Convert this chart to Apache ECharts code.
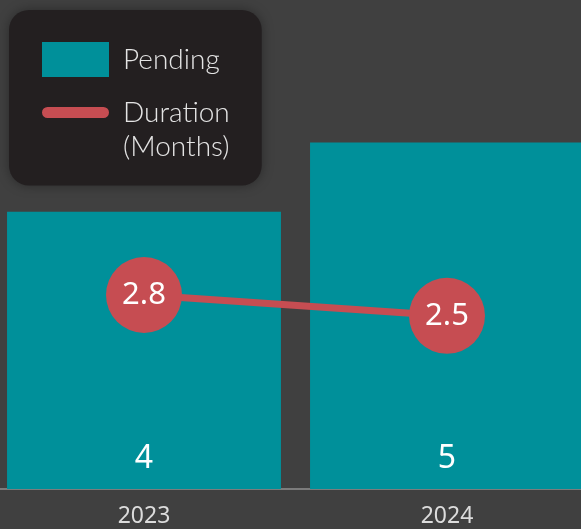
<!DOCTYPE html>
<html>
<head>
<meta charset="utf-8">
<script src="https://cdn.jsdelivr.net/npm/echarts@6/dist/echarts.min.js"></script>
<style>
  html, body { margin: 0; padding: 0; background: #404040; }
  #chart { width: 581px; height: 529px; }
</style>
</head>
<body>
<div id="chart"></div>
<script>
// chart data
const years = ['2023', '2024']
const pending = [4, 5]
const duration = [2.8, 2.5]

const teal = '#00909a'
const red = '#c64d52'

const chart = echarts.init(document.getElementById('chart'))

chart.setOption({
    backgroundColor: '#404040',
    animation: false,
    legend: {
        orient: 'vertical',
        left: 9,
        top: 10,
        padding: [32, 32, 22, 33],
        itemWidth: 67,
        itemHeight: 35,
        itemGap: -15.5,
        backgroundColor: '#231f20',
        borderRadius: 20,
        shadowBlur: 12,
        shadowColor: 'rgba(0,0,0,0.35)',
        textStyle: {
            color: '#e4e4e4',
            fontFamily: 'Lato',
            fontWeight: 300,
            fontSize: 28,
            lineHeight: 34,
            padding: [0, 0, 0, 9],
        },
        // leading empty line keeps "Duration" level with its icon
        formatter: (name) => (name === 'Pending' ? name : '\n' + name.replace(' (', '\n(')),
        data: [
            { name: 'Pending', icon: 'rect' },
            {
                name: 'Duration (Months)',
                icon: 'path://M5.5,0 H60.5 A5.5,5.5 0 0 1 60.5,11 H5.5 A5.5,5.5 0 0 1 5.5,0 Z',
            },
        ],
    },
    grid: {
        left: -7.5,
        right: -17.5,
        top: 4,
        bottom: 40,
        outerBoundsMode: 'none',
    },
    xAxis: {
        type: 'category',
        data: years,
        axisTick: { show: false },
        axisLine: { lineStyle: { color: '#7c7c7c', width: 2 } },
        axisLabel: {
            color: '#dcdcdc',
            fontFamily: 'Noto Sans',
            fontSize: 23,
            margin: 16,
        },
    },
    yAxis: {
        type: 'value',
        min: 0,
        max: 7,
        show: false,
        splitLine: { show: false },
    },
    series: [
        {
            name: 'Pending',
            type: 'bar',
            data: pending,
            barCategoryGap: '9.6%',
            itemStyle: { color: teal },
            label: {
                show: true,
                position: 'insideBottom',
                distance: 14,
                color: '#ffffff',
                fontFamily: 'Noto Sans',
                fontSize: 32,
            },
        },
        {
            name: 'Duration (Months)',
            type: 'line',
            data: duration,
            z: 5,
            symbol: 'circle',
            symbolSize: 76,
            itemStyle: { color: red },
            lineStyle: { color: red, width: 7 },
            label: {
                show: true,
                position: 'inside',
                color: '#ffffff',
                fontFamily: 'Noto Sans',
                fontSize: 31,
            },
        },
    ],
})
</script>
</body>
</html>
